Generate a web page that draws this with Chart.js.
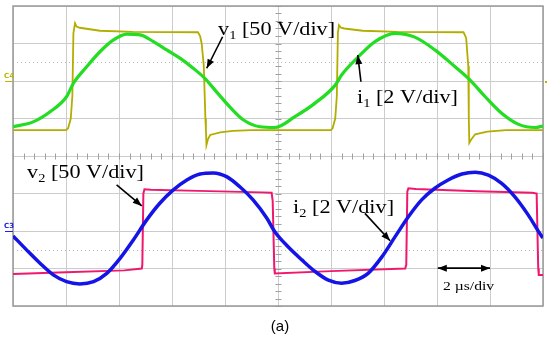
<!DOCTYPE html>
<html>
<head>
<meta charset="utf-8">
<script src="https://cdn.jsdelivr.net/npm/chart.js@4"></script>
<style>
  html, body { margin: 0; padding: 0; background: #fff; }
  canvas { display: block; }
</style>
</head>
<body>
<canvas id="scope" width="550" height="337"></canvas>
<script>
// time in µs (2 µs/div), level in screen divisions (0 = bottom, 8 = top)
const v1Time = [0, 2.00, 2.08, 2.18, 2.24, 2.28, 2.34, 2.40, 2.52, 3.28, 4.52, 6.98, 7.06, 7.12, 7.20, 7.26, 7.28, 7.30, 7.36, 7.44, 7.82, 8.30, 9.00,
  12.00, 12.06, 12.16, 12.22, 12.26, 12.30, 12.38, 12.50, 13.20, 14.50, 17.00, 17.10, 17.18, 17.20, 17.22, 17.30, 17.44, 17.90, 18.60, 20.0];
const v1Div = [4.69, 4.69, 4.74, 5.00, 5.60, 7.28, 7.54, 7.45, 7.42, 7.34, 7.31, 7.30, 7.20, 7.00, 6.40, 5.00, 4.69, 4.29, 4.45, 4.56, 4.63, 4.67, 4.69,
  4.69, 4.74, 5.00, 5.60, 7.28, 7.49, 7.42, 7.40, 7.34, 7.31, 7.30, 7.15, 6.40, 5.00, 4.35, 4.45, 4.58, 4.65, 4.69, 4.69];

const i1Time = [0, 0.76, 1.40, 2.02, 2.28, 2.78, 3.28, 3.78, 4.30, 4.80, 5.30, 5.80, 6.30, 6.80, 7.24, 7.68, 8.18, 8.70, 9.32, 9.88,
  10.64, 11.40, 12.16, 12.40, 13.04, 13.66, 14.42, 15.16, 15.92, 16.68, 17.24, 17.82, 18.44, 19.06, 19.70, 20.0];
const i1Div = [4.78, 4.91, 5.18, 5.58, 5.94, 6.38, 6.78, 7.09, 7.25, 7.23, 7.05, 6.83, 6.61, 6.34, 6.07, 5.71, 5.31, 4.96, 4.78, 4.76,
  5.05, 5.41, 5.89, 6.16, 6.65, 7.05, 7.27, 7.17, 6.83, 6.38, 6.03, 5.58, 5.14, 4.85, 4.76, 4.80];

const v2Time = [0, 2.00, 4.20, 4.86, 4.88, 4.92, 4.96, 5.20, 7.00, 9.40, 9.76, 9.80, 9.86, 9.88,
  12.00, 14.80, 14.84, 14.88, 14.92, 15.20, 17.50, 19.60, 19.76, 19.82, 19.84, 20.0];
const v2Div = [0.85, 0.90, 0.95, 1.00, 1.10, 3.00, 3.11, 3.10, 3.07, 3.03, 3.02, 2.80, 1.00, 0.87,
  0.93, 1.00, 1.10, 3.05, 3.14, 3.12, 3.06, 3.02, 3.00, 1.00, 0.83, 0.83];

const i2Time = [0, 0.52, 1.02, 1.52, 2.02, 2.52, 3.04, 3.54, 4.04, 4.54, 5.04, 5.54, 6.04, 6.56, 7.06, 7.56, 8.06, 8.56, 9.06, 9.58, 9.88,
  10.38, 10.90, 11.40, 11.90, 12.40, 12.90, 13.40, 13.92, 14.42, 14.92, 15.42, 15.92, 16.42, 16.94, 17.44, 17.94, 18.44, 18.94, 19.44, 19.96, 20.0];
const i2Div = [1.87, 1.49, 1.14, 0.83, 0.65, 0.59, 0.65, 0.87, 1.27, 1.76, 2.29, 2.74, 3.09, 3.36, 3.52, 3.55, 3.45, 3.18, 2.83, 2.34, 1.98,
  1.58, 1.23, 0.92, 0.69, 0.61, 0.68, 0.87, 1.31, 1.85, 2.38, 2.83, 3.14, 3.36, 3.52, 3.57, 3.49, 3.27, 2.91, 2.43, 1.85, 1.82];

const refLevels = [6.5, 1.5];

const toPoints = (xs, ys) => xs.map((t, i) => ({ x: t, y: ys[i] }));

// annotation placement (µs, div)
const notes = [
  { t: 7.74, v: 7.23, main: 'v', sub: '1', rest: ' [50 V/div]' },
  { t: 12.98, v: 5.42, main: 'i', sub: '1', rest: ' [2 V/div]' },
  { t: 0.53, v: 3.41, main: 'v', sub: '2', rest: ' [50 V/div]' },
  { t: 10.57, v: 2.47, main: 'i', sub: '2', rest: ' [2 V/div]' }
];
const arrows = [
  [7.91, 7.18, 7.31, 6.34],
  [13.13, 5.98, 13.01, 6.69],
  [3.91, 3.23, 4.86, 2.67],
  [13.28, 2.47, 14.23, 1.74]
];

function arrowHead(ctx, x0, y0, x1, y1) {
  const ang = Math.atan2(y1 - y0, x1 - x0);
  ctx.beginPath();
  ctx.moveTo(x1, y1);
  ctx.lineTo(x1 - 9 * Math.cos(ang) + 3.5 * Math.sin(ang), y1 - 9 * Math.sin(ang) - 3.5 * Math.cos(ang));
  ctx.lineTo(x1 - 9 * Math.cos(ang) - 3.5 * Math.sin(ang), y1 - 9 * Math.sin(ang) + 3.5 * Math.cos(ang));
  ctx.closePath();
  ctx.fill();
}

const scopeDecor = {
  id: 'scopeDecor',
  beforeDatasetsDraw(chart) {
    const { ctx, chartArea: a, scales: { x, y } } = chart;
    ctx.save();
    ctx.strokeStyle = '#b8b8b8';
    ctx.lineWidth = 1;
    ctx.setLineDash([1, 3]);
    refLevels.forEach(v => {
      const py = Math.round(y.getPixelForValue(v)) + 0.5;
      ctx.beginPath(); ctx.moveTo(a.left, py); ctx.lineTo(a.right, py); ctx.stroke();
    });
    ctx.setLineDash([]);

    // minor ticks on the centre cross
    ctx.strokeStyle = '#a0a0a0';
    const cx = Math.round(x.getPixelForValue(10)) + 0.5;
    const cy = Math.round(y.getPixelForValue(4)) + 0.5;
    ctx.beginPath();
    for (let k = 0; k <= 50; k++) {
      const px = Math.round(x.getPixelForValue(k * 0.4)) + 0.5;
      ctx.moveTo(px, cy - 3); ctx.lineTo(px, cy + 3);
    }
    for (let k = 0; k <= 40; k++) {
      const py = Math.round(y.getPixelForValue(k * 0.2)) + 0.5;
      ctx.moveTo(cx - 3, py); ctx.lineTo(cx + 3, py);
    }
    ctx.stroke();

    ctx.strokeStyle = '#999';
    ctx.lineWidth = 1.5;
    ctx.strokeRect(a.left, a.top, a.width, a.height);
    ctx.restore();
  },
  afterDraw(chart) {
    const { ctx, chartArea: a, scales: { x, y } } = chart;
    ctx.save();

    // channel markers
    ctx.font = 'bold 7px "DejaVu Sans"';
    ctx.textBaseline = 'alphabetic';
    ctx.fillStyle = '#b9b800';
    ctx.fillText('C4', 4, y.getPixelForValue(6) - 3);
    ctx.fillRect(5, Math.round(y.getPixelForValue(6)), 8, 1);
    ctx.fillRect(a.right + 2, Math.round(y.getPixelForValue(6)), 2, 2);
    ctx.fillStyle = '#2020e0';
    ctx.fillText('C3', 4, y.getPixelForValue(2) - 3);
    ctx.fillRect(5, Math.round(y.getPixelForValue(2)), 8, 1);

    // labels
    ctx.fillStyle = '#000';
    ctx.strokeStyle = '#000';
    notes.forEach(n => {
      ctx.save();
      ctx.translate(x.getPixelForValue(n.t), y.getPixelForValue(n.v));
      ctx.scale(1.2, 1);
      ctx.font = '18.5px "Liberation Serif"';
      ctx.fillText(n.main, 0, 0);
      let w = ctx.measureText(n.main).width;
      ctx.font = '12px "Liberation Serif"';
      ctx.fillText(n.sub, w, 4);
      w += ctx.measureText(n.sub).width;
      ctx.font = '18.5px "Liberation Serif"';
      ctx.fillText(n.rest, w, 0);
      ctx.restore();
    });

    ctx.lineWidth = 1.6;
    arrows.forEach(([t0, v0, t1, v1]) => {
      const x0 = x.getPixelForValue(t0), y0 = y.getPixelForValue(v0);
      const x1 = x.getPixelForValue(t1), y1 = y.getPixelForValue(v1);
      ctx.beginPath(); ctx.moveTo(x0, y0); ctx.lineTo(x1, y1); ctx.stroke();
      arrowHead(ctx, x0, y0, x1, y1);
    });

    // time scale marker
    const sx0 = x.getPixelForValue(16.03), sx1 = x.getPixelForValue(18.0), sy = y.getPixelForValue(1.01);
    ctx.beginPath(); ctx.moveTo(sx0, sy); ctx.lineTo(sx1, sy); ctx.stroke();
    arrowHead(ctx, sx1, sy, sx0, sy);
    arrowHead(ctx, sx0, sy, sx1, sy);
    ctx.save();
    ctx.translate(x.getPixelForValue(16.23), y.getPixelForValue(0.43));
    ctx.scale(1.2, 1);
    ctx.font = '13px "Liberation Serif"';
    ctx.fillText('2 µs/div', 0, 0);
    ctx.restore();

    ctx.font = '15px "Liberation Sans"';
    ctx.textAlign = 'center';
    ctx.fillText('(a)', 280, 331);
    ctx.restore();
  }
};

new Chart(document.getElementById('scope'), {
  type: 'line',
  data: {
    datasets: [
      { label: 'i1', data: toPoints(i1Time, i1Div), borderColor: '#22dd22', borderWidth: 3.2, cubicInterpolationMode: 'monotone', order: 1 },
      { label: 'v1', data: toPoints(v1Time, v1Div), borderColor: '#b3ad00', borderWidth: 1.8, order: 2 },
      { label: 'i2', data: toPoints(i2Time, i2Div), borderColor: '#1414e6', borderWidth: 3.5, cubicInterpolationMode: 'monotone', order: 3 },
      { label: 'v2', data: toPoints(v2Time, v2Div), borderColor: '#f0186e', borderWidth: 2, order: 4 }
    ]
  },
  options: {
    responsive: false,
    animation: false,
    devicePixelRatio: 1,
    layout: { padding: { left: 13, right: 7, top: 6, bottom: 31 } },
    elements: { point: { radius: 0 }, line: { tension: 0 } },
    plugins: { legend: { display: false }, tooltip: { enabled: false } },
    scales: {
      x: {
        type: 'linear', min: 0, max: 20,
        ticks: { display: false, stepSize: 2 },
        grid: { color: '#cccccc', drawTicks: false },
        border: { display: false }
      },
      y: {
        type: 'linear', min: 0, max: 8,
        ticks: { display: false, stepSize: 1 },
        grid: { color: '#cccccc', drawTicks: false },
        border: { display: false }
      }
    }
  },
  plugins: [scopeDecor]
});
</script>
</body>
</html>
